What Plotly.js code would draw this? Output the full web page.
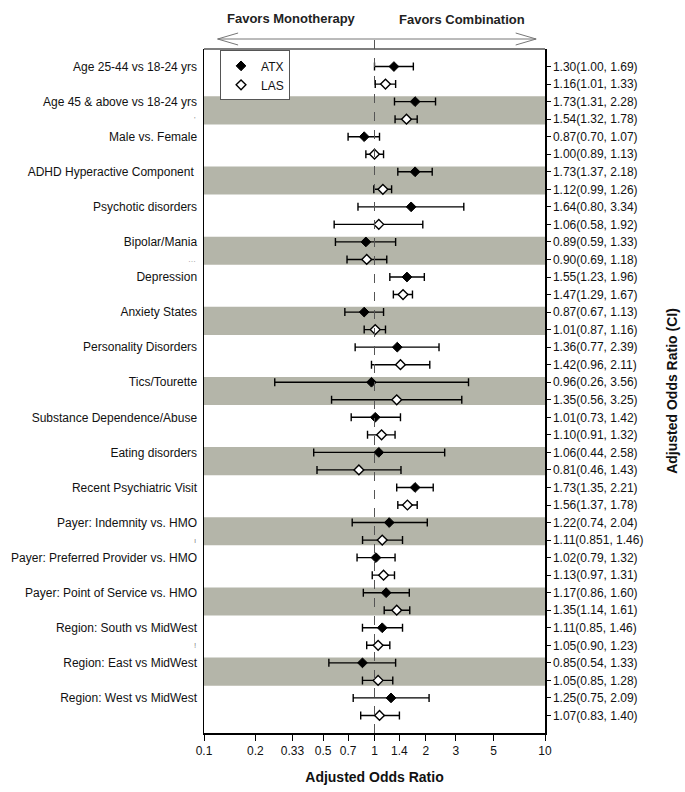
<!DOCTYPE html>
<html>
<head>
<meta charset="utf-8">
<script src="https://cdn.plot.ly/plotly-3.0.1.min.js"></script>
<style>html,body{margin:0;padding:0;background:#fff;}#chart{width:685px;height:792px;}</style>
</head>
<body>
<div id="chart"></div>
<script>
const categories = ["Age 25-44 vs 18-24 yrs","Age 45 & above vs 18-24 yrs","Male vs. Female","ADHD Hyperactive Component\u00a0","Psychotic disorders","Bipolar/Mania","Depression","Anxiety States","Personality Disorders","Tics/Tourette","Substance Dependence/Abuse","Eating disorders","Recent Psychiatric Visit","Payer: Indemnity vs. HMO","Payer: Preferred Provider vs. HMO","Payer: Point of Service vs. HMO","Region: South vs MidWest","Region: East vs MidWest","Region: West vs MidWest"];
const atxOR = [1.30,1.73,0.87,1.73,1.64,0.89,1.55,0.87,1.36,0.96,1.01,1.06,1.73,1.22,1.02,1.17,1.11,0.85,1.25];
const atxLo = [1.00,1.31,0.70,1.37,0.80,0.59,1.23,0.67,0.77,0.26,0.73,0.44,1.35,0.74,0.79,0.86,0.85,0.54,0.75];
const atxHi = [1.69,2.28,1.07,2.18,3.34,1.33,1.96,1.13,2.39,3.56,1.42,2.58,2.21,2.04,1.32,1.60,1.46,1.33,2.09];
const lasOR = [1.16,1.54,1.00,1.12,1.06,0.90,1.47,1.01,1.42,1.35,1.10,0.81,1.56,1.11,1.13,1.35,1.05,1.05,1.07];
const lasLo = [1.01,1.32,0.89,0.99,0.58,0.69,1.29,0.87,0.96,0.56,0.91,0.46,1.37,0.851,0.97,1.14,0.90,0.85,0.83];
const lasHi = [1.33,1.78,1.13,1.26,1.92,1.18,1.67,1.16,2.11,3.25,1.32,1.43,1.78,1.46,1.31,1.61,1.23,1.28,1.40];
const xTickVals = [0.1,0.2,0.33,0.5,0.7,1,1.4,2,3,5,10];
const xTickText = ["0.1","0.2","0.33","0.5","0.7","1","1.4","2","3","5","10"];
const strayMarks = [[3,"'"],[11,"\u2026"],[27,"\u0131"],[33,"!"]];

const FONT = "Liberation Sans, Arial, sans-serif";
const fmt = v => { const s = String(v); const d = s.includes('.') ? s.split('.')[1].length : 0; return v.toFixed(Math.max(2, d)); };
const n = categories.length;
const atxY = categories.map((c, i) => 2 * i);
const lasY = categories.map((c, i) => 2 * i + 1);

const rightVals = [], rightText = [];
for (let i = 0; i < n; i++) {
  rightVals.push(2 * i); rightText.push(`${fmt(atxOR[i])}(${fmt(atxLo[i])}, ${fmt(atxHi[i])})`);
  rightVals.push(2 * i + 1); rightText.push(`${fmt(lasOR[i])}(${fmt(lasLo[i])}, ${fmt(lasHi[i])})`);
}

const errStyle = { type: 'data', symmetric: false, color: '#000', thickness: 1.4, width: 4 };
const traces = [
  { type: 'scatter', mode: 'markers', name: 'ATX', x: atxOR, y: atxY,
    error_x: Object.assign({}, errStyle, { array: atxHi.map((h, i) => h - atxOR[i]), arrayminus: atxOR.map((o, i) => o - atxLo[i]) }),
    marker: { symbol: 'diamond', size: 7.5, color: '#000', line: { color: '#000', width: 1 } }, hoverinfo: 'x+y' },
  { type: 'scatter', mode: 'markers', name: 'LAS', x: lasOR, y: lasY,
    error_x: Object.assign({}, errStyle, { array: lasHi.map((h, i) => h - lasOR[i]), arrayminus: lasOR.map((o, i) => o - lasLo[i]) }),
    marker: { symbol: 'diamond', size: 7.5, color: '#fff', line: { color: '#000', width: 1.4 } }, hoverinfo: 'x+y' },
  { type: 'scatter', mode: 'markers', x: [1], y: [0], yaxis: 'y2', showlegend: false, hoverinfo: 'skip', marker: { opacity: 0 } }
];

const shapes = [];
for (let i = 1; i < n; i += 2) {
  shapes.push({ type: 'rect', xref: 'paper', yref: 'y', x0: 0, x1: 1, y0: 2 * i - 0.3, y1: 2 * i + 1.3,
    fillcolor: '#b4b5a9', line: { width: 0 }, layer: 'below' });
}
// top border
shapes.push({ type: 'line', xref: 'paper', yref: 'paper', x0: 0, x1: 1, y0: 1, y1: 1, line: { color: '#555', width: 1.5 } });
// dashed reference line at 1
shapes.push({ type: 'line', xref: 'paper', yref: 'paper', x0: 0.5, x1: 0.5, y0: 0, y1: 1.025, line: { color: '#555', width: 1, dash: 'dash' } });
// arrow shaft and heads
const ay = 1 + 10 / 684;
shapes.push({ type: 'line', xref: 'paper', yref: 'paper', x0: 0.04, x1: 0.974, y0: ay, y1: ay, line: { color: '#777', width: 1 } });
shapes.push({ type: 'path', xref: 'paper', yref: 'paper', path: `M 0.100 ${ay + 6/684} L 0.040 ${ay} L 0.100 ${ay - 6/684}`, line: { color: '#777', width: 1 } });
shapes.push({ type: 'path', xref: 'paper', yref: 'paper', path: `M 0.914 ${ay + 6/684} L 0.974 ${ay} L 0.914 ${ay - 6/684}`, line: { color: '#777', width: 1 } });

const annotations = [
  { xref: 'paper', yref: 'paper', x: 0.258, y: 1 + 31 / 684, xanchor: 'center', yanchor: 'middle', text: '<b>Favors Monotherapy</b>', showarrow: false, font: { family: FONT, size: 13, color: '#222' } },
  { xref: 'paper', yref: 'paper', x: 0.757, y: 1 + 30 / 684, xanchor: 'center', yanchor: 'middle', text: '<b>Favors Combination</b>', showarrow: false, font: { family: FONT, size: 13, color: '#222' } }
];
strayMarks.forEach(([r, t]) => annotations.push({ xref: 'paper', yref: 'y', x: -0.018, y: r, xanchor: 'right', text: t, showarrow: false, font: { family: FONT, size: 8, color: '#888' } }));

const layout = {
  width: 685, height: 792,
  margin: { l: 204, r: 140, t: 49, b: 59 },
  paper_bgcolor: '#fff', plot_bgcolor: '#fff',
  font: { family: FONT, size: 12, color: '#111' },
  showlegend: true,
  legend: { x: 0.047, y: 0.998, xanchor: 'left', yanchor: 'top', bgcolor: '#fff', bordercolor: '#555', borderwidth: 1,
    font: { family: FONT, size: 12, color: '#111' }, tracegroupgap: 0 },
  xaxis: { type: 'log', range: [-1, 1], tickvals: xTickVals, ticktext: xTickText, ticks: 'outside', ticklen: 6, tickcolor: '#000',
    showline: true, linecolor: '#000', linewidth: 1.5, showgrid: false, zeroline: false,
    tickfont: { family: FONT, size: 12, color: '#111' },
    title: { text: '<b>Adjusted Odds Ratio</b>', font: { family: FONT, size: 14, color: '#111' }, standoff: 15 } },
  yaxis: { range: [38, -1], tickvals: atxY, ticktext: categories, ticks: '', showline: true, linecolor: '#000', linewidth: 1.5,
    showgrid: false, zeroline: false, tickfont: { family: FONT, size: 12, color: '#111' }, ticklabelstandoff: 3 },
  yaxis2: { overlaying: 'y', side: 'right', range: [38, -1], tickvals: rightVals, ticktext: rightText, ticks: 'outside', ticklen: 4,
    tickcolor: '#000', showline: true, linecolor: '#000', linewidth: 1.5, showgrid: false, zeroline: false,
    tickfont: { family: FONT, size: 12, color: '#111' },
    title: { text: '<b>Adjusted Odds Ratio (CI)</b>', font: { family: FONT, size: 14, color: '#111' }, standoff: 25 } },
  shapes: shapes,
  annotations: annotations
};

Plotly.newPlot('chart', traces, layout, { staticPlot: true, displayModeBar: false });
</script>
</body>
</html>
